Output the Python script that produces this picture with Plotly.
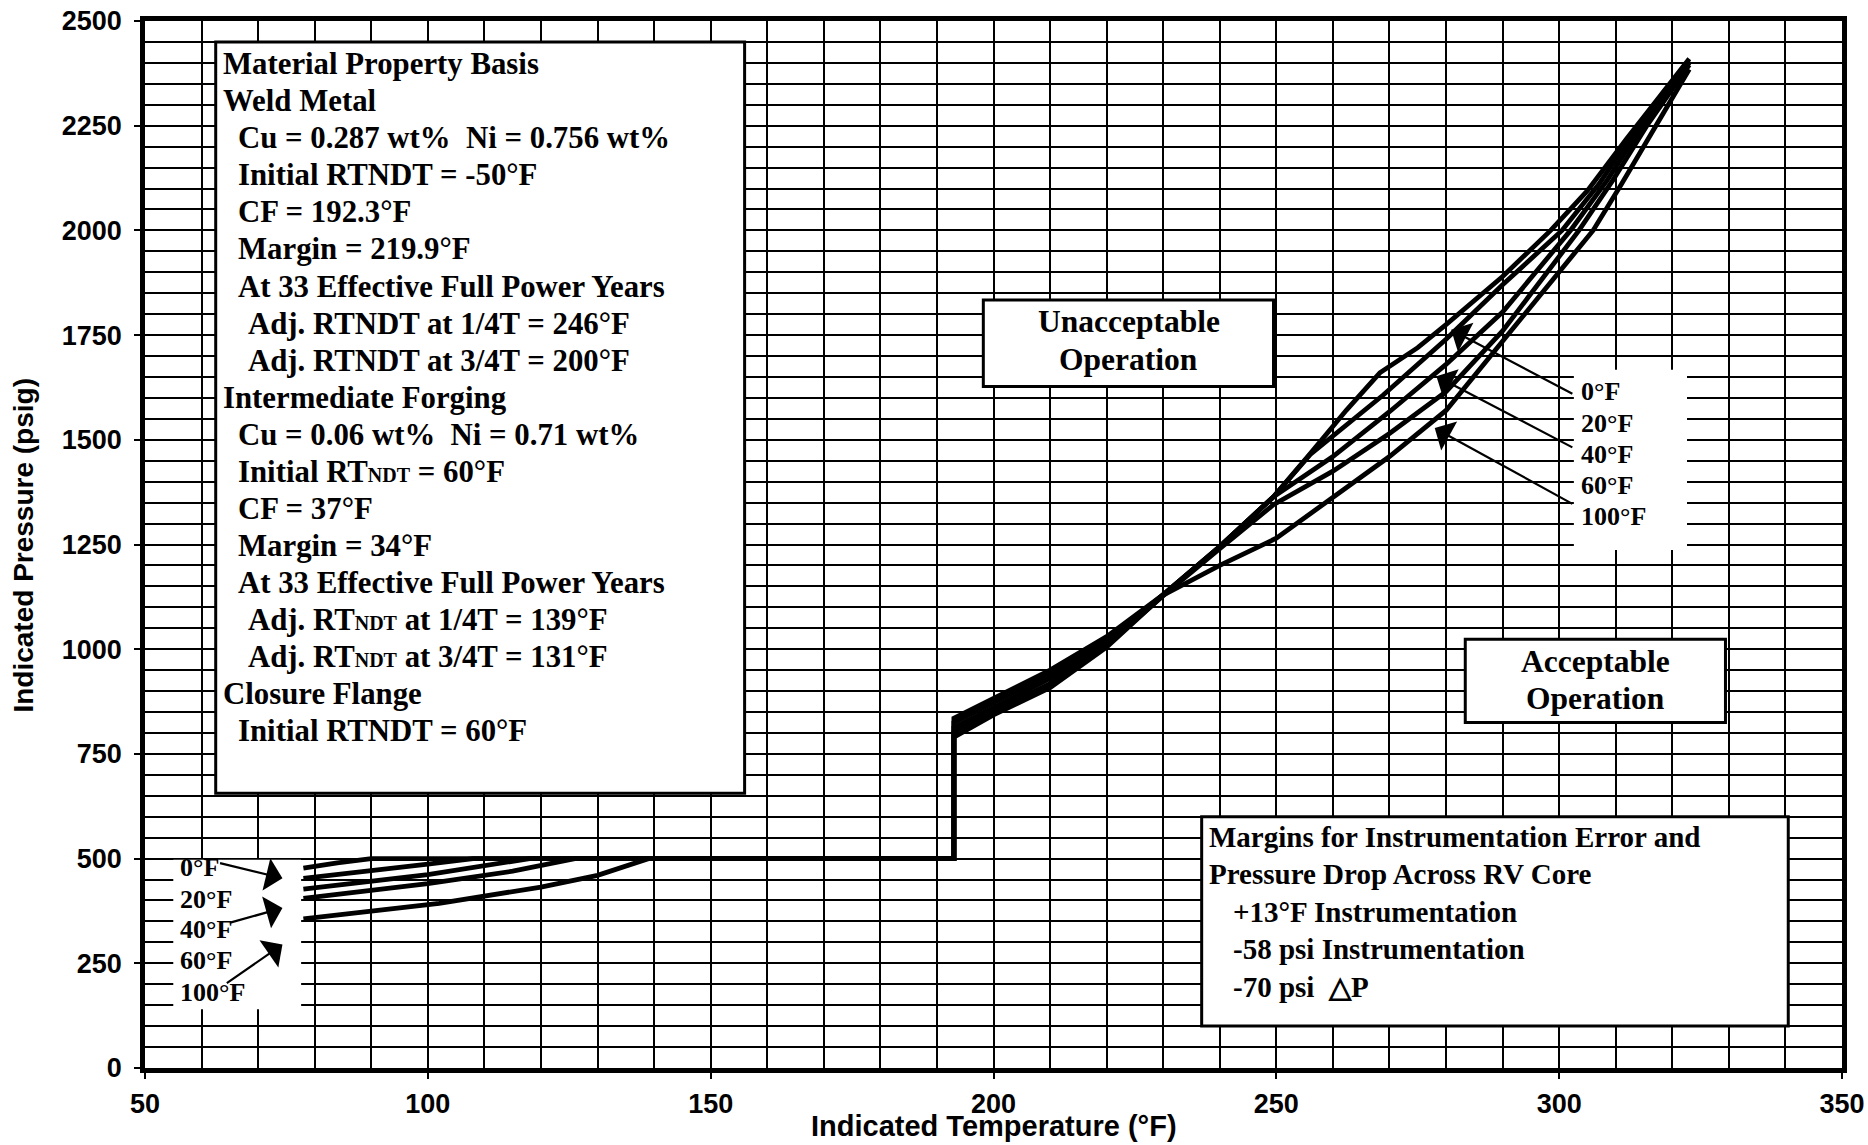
import plotly.graph_objects as go

# ---------------- data ----------------
temp_0F = [78, 84, 90, 193, 193, 200, 210, 220, 230, 240, 249.5, 256, 262.4, 268.3, 275, 280, 290, 298.5, 305, 312, 318, 323]
press_0F = [477, 490, 500, 500, 835, 882, 950, 1030, 1130, 1245, 1364, 1467, 1571, 1660, 1720, 1775, 1890, 2000, 2095, 2220, 2325, 2410]

temp_20F = [78, 90, 100, 108, 193, 193, 200, 210, 220, 230, 240, 249.5, 256, 262, 268.9, 280, 290, 300.5, 307, 313.5, 318.5, 323]
press_20F = [453, 470, 487, 500, 500, 825, 872, 940, 1022, 1130, 1245, 1364, 1465, 1530, 1607, 1740, 1870, 2000, 2110, 2240, 2330, 2405]

temp_40F = [78, 100, 118, 193, 193, 200, 210, 220, 230, 240, 249.5, 260, 270, 280, 290, 302, 308.5, 314.5, 319, 323]
press_40F = [427, 462, 500, 500, 813, 862, 930, 1016, 1130, 1245, 1364, 1460, 1567, 1680, 1805, 2000, 2120, 2245, 2330, 2400]

temp_60F = [78, 100, 115, 126, 193, 193, 200, 210, 220, 230, 240, 249.5, 260, 270, 280, 290, 303.5, 309.5, 315.5, 319.5, 323]
press_60F = [405, 440, 470, 500, 500, 802, 852, 918, 1010, 1128, 1240, 1345, 1425, 1515, 1615, 1760, 2000, 2120, 2250, 2330, 2395]

temp_100F = [78, 102, 120, 130, 139, 193, 193, 200, 210, 220, 230, 240, 250, 260, 270, 280, 290, 300, 306, 311, 317, 323]
press_100F = [356, 393, 432, 460, 500, 500, 790, 843, 908, 1005, 1129, 1200, 1265, 1362, 1460, 1570, 1735, 1900, 2000, 2110, 2250, 2385]

curves = [
    ("0°F", temp_0F, press_0F),
    ("20°F", temp_20F, press_20F),
    ("40°F", temp_40F, press_40F),
    ("60°F", temp_60F, press_60F),
    ("100°F", temp_100F, press_100F),
]

x_ticks = [50, 100, 150, 200, 250, 300, 350]
y_ticks = [0, 250, 500, 750, 1000, 1250, 1500, 1750, 2000, 2250, 2500]

curve_labels = ["0°F", "20°F", "40°F", "60°F", "100°F"]

basis_lines = [
    (0, "Material Property Basis"),
    (0, "Weld Metal"),
    (1, "Cu = 0.287 wt%\u00a0\u00a0Ni = 0.756 wt%"),
    (1, "Initial RTNDT = -50°F"),
    (1, "CF = 192.3°F"),
    (1, "Margin = 219.9°F"),
    (1, "At 33 Effective Full Power Years"),
    (2, "Adj. RTNDT at 1/4T = 246°F"),
    (2, "Adj. RTNDT at 3/4T = 200°F"),
    (0, "Intermediate Forging"),
    (1, "Cu = 0.06 wt%\u00a0\u00a0Ni = 0.71 wt%"),
    (1, "Initial RT<span style='font-size:20px'>NDT</span> = 60°F"),
    (1, "CF = 37°F"),
    (1, "Margin = 34°F"),
    (1, "At 33 Effective Full Power Years"),
    (2, "Adj. RT<span style='font-size:20px'>NDT</span> at 1/4T = 139°F"),
    (2, "Adj. RT<span style='font-size:20px'>NDT</span> at 3/4T = 131°F"),
    (0, "Closure Flange"),
    (1, "Initial RTNDT = 60°F"),
]

margin_lines = [
    (0, "Margins for Instrumentation Error and"),
    (0, "Pressure Drop Across RV Core"),
    (1, "+13°F Instrumentation"),
    (1, "-58 psi Instrumentation"),
    (1, "-70 psi\u00a0\u00a0\u25b3P"),
]

# ---------------- figure ----------------
fig = go.Figure()
for name, t, p in curves:
    fig.add_trace(go.Scatter(x=t, y=p, mode="lines", name=name,
                             line=dict(color="black", width=4.8),
                             showlegend=False, hoverinfo="skip"))

SERIF = "Liberation Serif, Times New Roman, serif"
SANS = "Liberation Sans, Arial, sans-serif"

shapes = []
annotations = []

def box(x0, x1, y0, y1, lw=3):
    shapes.append(dict(type="rect", xref="x", yref="y", x0=x0, x1=x1, y0=y0, y1=y1,
                       line=dict(color="black", width=lw), fillcolor="white", layer="above"))

def blank(x0, x1, y0, y1):
    shapes.append(dict(type="rect", xref="x", yref="y", x0=x0, x1=x1, y0=y0, y1=y1,
                       line=dict(width=0), fillcolor="white", layer="above"))

def txt(x, y, s, size=29, anchor="left"):
    annotations.append(dict(x=x, y=y, xref="x", yref="y", text="<b>" + s + "</b>",
                            showarrow=False, xanchor=anchor, yanchor="middle", borderpad=0,
                            font=dict(family=SERIF, size=size, color="black")))

def arrow(x_tail, y_tail, x_tip, y_tip):
    annotations.append(dict(x=x_tip, y=y_tip, ax=x_tail, ay=y_tail, xref="x", yref="y",
                            axref="x", ayref="y", text="", showarrow=True, arrowhead=1,
                            arrowsize=2.5, arrowwidth=2.2, arrowcolor="black", standoff=0))

# label areas (grid hidden)
blank(55, 77.6, 140, 497)
blank(302.6, 322.6, 1237, 1667)

# main property box
box(62.5, 156.0, 656, 2450)
indent_x = [63.6, 66.3, 68.0]
for i, (lvl, s) in enumerate(basis_lines):
    txt(indent_x[lvl], 2397 - i * 88.5, s, size=30.8)

# unacceptable / acceptable boxes
box(198.2, 249.5, 1627, 1834)
txt(223.9, 1783, "Unacceptable", size=31.5, anchor="center")
txt(223.9, 1692, "Operation", size=31.5, anchor="center")
box(283.4, 329.4, 825, 1024)
txt(306.4, 970, "Acceptable", size=31.5, anchor="center")
txt(306.4, 882, "Operation", size=31.5, anchor="center")

# margins box
box(236.8, 340.5, 100, 600)
m_indent = [237.9, 242.2]
for i, (lvl, s) in enumerate(margin_lines):
    txt(m_indent[lvl], 552 - i * 89.6, s, size=29)

# curve labels, left
left_y = [478, 403, 330, 256, 181]
for s, y in zip(curve_labels, left_y):
    txt(56.0, y, s, size=26)
arrow(63.0, 490, 74.3, 453)
arrow(64.8, 346, 74.3, 382)
arrow(64.2, 200, 74.3, 295)

# curve labels, right
right_y = [1616, 1540, 1465, 1390, 1316]
for s, y in zip(curve_labels, right_y):
    txt(303.7, y, s, size=26)
arrow(302.6, 1608, 280.9, 1763)
arrow(302.6, 1480, 278.3, 1652)
arrow(302.6, 1345, 278.0, 1528)

fig.update_layout(
    template="none",
    width=1868, height=1145,
    margin=dict(l=145, r=26, t=21, b=77, autoexpand=False),
    paper_bgcolor="white", plot_bgcolor="white",
    shapes=shapes, annotations=annotations,
    showlegend=False,
)

axis_common = dict(
    automargin=False,
    showline=True, linecolor="black", linewidth=4.5, mirror=True,
    showgrid=True, gridcolor="black", gridwidth=1.7,
    ticks="outside", ticklen=6, tickwidth=2, tickcolor="black",
    zeroline=False,
    tickfont=dict(family=SANS, size=27, color="black", weight="bold"),
)

fig.update_xaxes(range=[50, 350], tickvals=x_ticks, ticktext=[str(v) for v in x_ticks],
                 minor=dict(dtick=10, tick0=50, showgrid=True, gridcolor="black", gridwidth=1.7, ticks=""),
                 ticklabelstandoff=2, **axis_common)
fig.update_yaxes(range=[0, 2500], tickvals=y_ticks, ticktext=[str(v) for v in y_ticks],
                 minor=dict(dtick=50, tick0=0, showgrid=True, gridcolor="black", gridwidth=1.7, ticks=""),
                 ticklabelstandoff=7, **axis_common)

# axis titles
fig.add_annotation(x=0.5, y=-0.0554, xref="paper", yref="paper", showarrow=False,
                   text="<b>Indicated Temperature (°F)</b>", xanchor="center", yanchor="middle",
                   font=dict(family=SANS, size=29, color="black"))
fig.add_annotation(x=-0.0713, y=0.499, xref="paper", yref="paper", showarrow=False,
                   text="<b>Indicated Pressure (psig)</b>", xanchor="center", yanchor="middle",
                   textangle=-90, font=dict(family=SANS, size=28, color="black"))

fig.write_html(
    "out.html",
    config={"displayModeBar": False},
    post_script="document.body.style.margin='0px';document.body.style.padding='0px';"
                "document.body.style.overflow='hidden';",
)
